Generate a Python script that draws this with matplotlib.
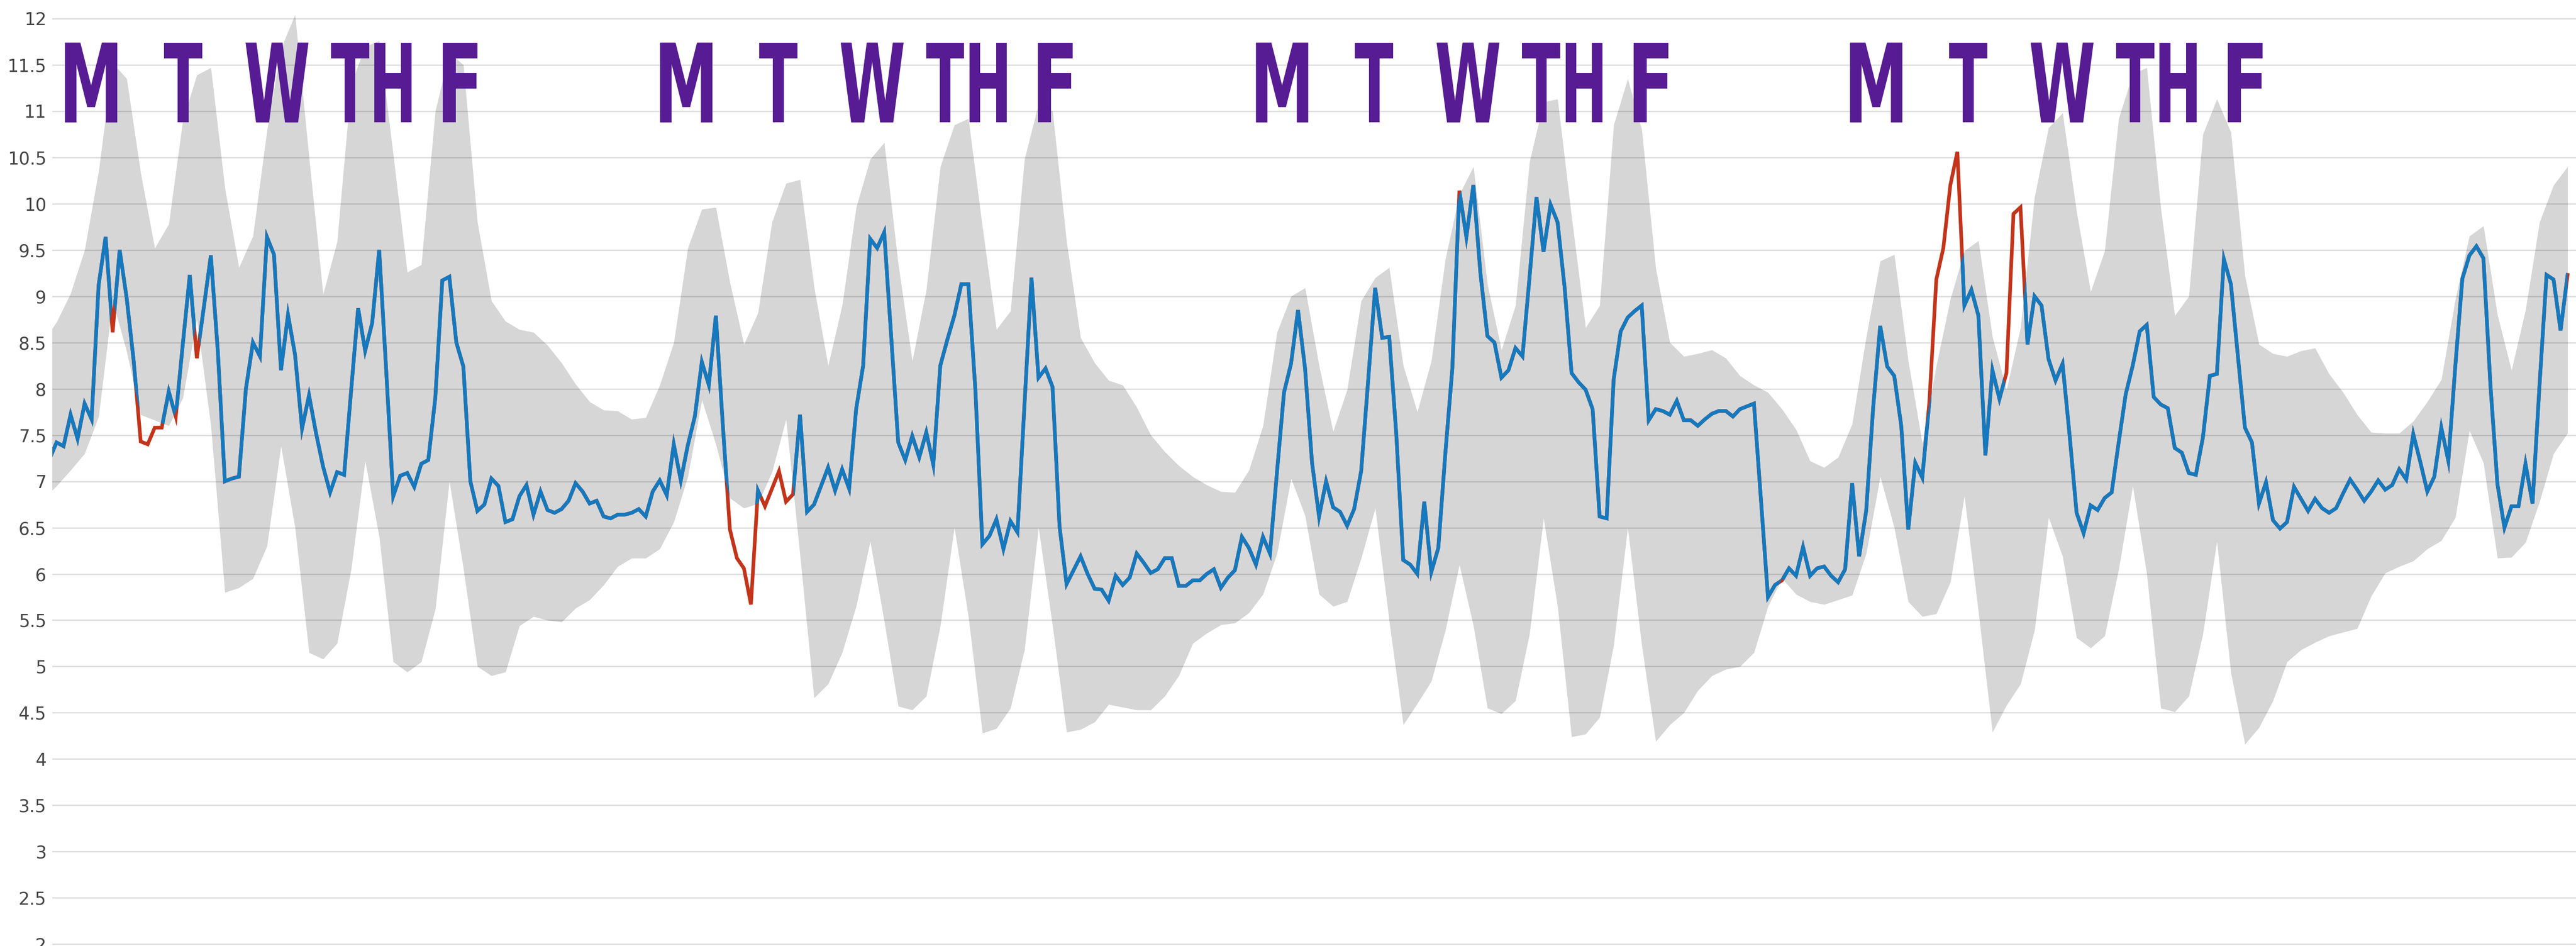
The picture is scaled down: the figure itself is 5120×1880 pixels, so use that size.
import numpy as np
import matplotlib
matplotlib.use('Agg')
import matplotlib.pyplot as plt
from matplotlib.textpath import TextPath
from matplotlib.patches import PathPatch
from matplotlib.font_manager import FontProperties
from matplotlib.transforms import Affine2D

# Lecturas cada 2 horas; el índice -1 queda justo a la izquierda del área visible
valores = [
    7.24,
    7.42, 7.38, 7.72, 7.46, 7.84, 7.67, 9.12, 9.64, 8.61, 9.50,
    8.98, 8.30, 7.43, 7.40, 7.58, 7.58, 7.97, 7.70, 8.48, 9.23,
    8.33, 8.88, 9.44, 8.40, 7.00, 7.03, 7.05, 8.00, 8.50, 8.35,
    9.64, 9.45, 8.20, 8.80, 8.37, 7.57, 7.93, 7.52, 7.16, 6.88,
    7.10, 7.07, 7.98, 8.87, 8.41, 8.71, 9.50, 8.20, 6.84, 7.06,
    7.09, 6.94, 7.19, 7.23, 7.90, 9.17, 9.21, 8.50, 8.24, 7.00,
    6.68, 6.75, 7.03, 6.95, 6.56, 6.59, 6.84, 6.96, 6.64, 6.89,
    6.69, 6.66, 6.70, 6.79, 6.98, 6.89, 6.76, 6.79, 6.62, 6.60,
    6.64, 6.64, 6.66, 6.70, 6.62, 6.89, 7.01, 6.85, 7.40, 7.01,
    7.39, 7.70, 8.29, 8.04, 8.79, 7.60, 6.48, 6.17, 6.06, 5.67,
    6.90, 6.73, 6.92, 7.11, 6.78, 6.86, 7.72, 6.67, 6.75, 6.95,
    7.15, 6.90, 7.13, 6.92, 7.78, 8.25, 9.62, 9.52, 9.69, 8.56,
    7.42, 7.23, 7.49, 7.26, 7.53, 7.18, 8.25, 8.53, 8.79, 9.13,
    9.13, 7.99, 6.32, 6.41, 6.59, 6.27, 6.57, 6.45, 7.83, 9.20,
    8.12, 8.22, 8.02, 6.51, 5.89, 6.04, 6.19, 6.00, 5.84, 5.83,
    5.71, 5.98, 5.88, 5.96, 6.22, 6.12, 6.01, 6.05, 6.17, 6.17,
    5.87, 5.87, 5.93, 5.93, 6.00, 6.05, 5.85, 5.96, 6.04, 6.40,
    6.28, 6.10, 6.40, 6.22, 7.10, 7.96, 8.27, 8.85, 8.22, 7.20,
    6.62, 7.00, 6.72, 6.67, 6.52, 6.70, 7.11, 8.09, 9.09, 8.55,
    8.56, 7.52, 6.15, 6.10, 6.00, 6.78, 6.02, 6.28, 7.30, 8.22,
    10.14, 9.64, 10.20, 9.25, 8.57, 8.50, 8.12, 8.20, 8.44, 8.35,
    9.20, 10.07, 9.48, 9.99, 9.80, 9.10, 8.17, 8.07, 7.99, 7.78,
    6.62, 6.60, 8.10, 8.62, 8.77, 8.84, 8.90, 7.66, 7.78, 7.76,
    7.72, 7.87, 7.66, 7.66, 7.60, 7.67, 7.73, 7.76, 7.76, 7.70,
    7.78, 7.81, 7.84, 6.80, 5.75, 5.88, 5.93, 6.06, 5.98, 6.29,
    5.98, 6.06, 6.08, 5.98, 5.91, 6.05, 6.98, 6.19, 6.68, 7.80,
    8.68, 8.24, 8.14, 7.60, 6.48, 7.20, 7.04, 7.85, 9.18, 9.52,
    10.20, 10.56, 8.90, 9.07, 8.79, 7.28, 8.20, 7.89, 8.17, 9.89,
    9.96, 8.48, 9.00, 8.90, 8.32, 8.09, 8.27, 7.50, 6.66, 6.44,
    6.74, 6.69, 6.82, 6.88, 7.42, 7.94, 8.25, 8.62, 8.69, 7.91,
    7.83, 7.79, 7.36, 7.31, 7.09, 7.07, 7.47, 8.14, 8.16, 9.40,
    9.13, 8.35, 7.58, 7.42, 6.76, 6.99, 6.58, 6.49, 6.56, 6.94,
    6.81, 6.68, 6.81, 6.71, 6.66, 6.71, 6.87, 7.02, 6.91, 6.79,
    6.89, 7.01, 6.91, 6.96, 7.13, 7.02, 7.51, 7.21, 6.89, 7.05,
    7.58, 7.22, 8.25, 9.19, 9.44, 9.54, 9.41, 8.04, 6.97, 6.50,
    6.73, 6.73, 7.19, 6.76, 8.04, 9.23, 9.18, 8.63, 9.23,
]

# Intervalo esperado (cada 4 horas, empezando en el índice -2)
banda_sup = [
    8.50, 8.72, 9.03, 9.50, 10.35, 11.52, 11.35, 10.33, 9.52, 9.78,
    10.90, 11.39, 11.47, 10.17, 9.31, 9.65, 10.79, 11.68, 12.04, 10.50,
    9.02, 9.59, 11.29, 11.70, 11.76, 10.53, 9.26, 9.34, 11.00, 11.63,
    11.50, 9.80, 8.95, 8.73, 8.64, 8.61, 8.47, 8.28, 8.05, 7.86,
    7.77, 7.76, 7.67, 7.69, 8.04, 8.50, 9.52, 9.94, 9.96, 9.15,
    8.48, 8.82, 9.80, 10.22, 10.26, 9.10, 8.25, 8.90, 9.96, 10.48,
    10.66, 9.35, 8.30, 9.07, 10.40, 10.85, 10.92, 9.75, 8.64, 8.84,
    10.48, 11.08, 11.00, 9.59, 8.55, 8.28, 8.09, 8.04, 7.80, 7.50,
    7.32, 7.17, 7.05, 6.96, 6.89, 6.88, 7.12, 7.60, 8.61, 9.00,
    9.09, 8.25, 7.54, 7.99, 8.95, 9.20, 9.31, 8.25, 7.75, 8.30,
    9.40, 10.10, 10.40, 9.13, 8.42, 8.90, 10.45, 11.10, 11.13, 9.86,
    8.66, 8.90, 10.85, 11.35, 10.80, 9.30, 8.50, 8.35, 8.38, 8.42,
    8.33, 8.14, 8.04, 7.96, 7.78, 7.56, 7.22, 7.15, 7.26, 7.62,
    8.56, 9.38, 9.45, 8.30, 7.41, 8.25, 8.97, 9.49, 9.60, 8.56,
    7.99, 8.66, 10.07, 10.82, 10.98, 9.91, 9.05, 9.49, 10.92, 11.40,
    11.47, 9.95, 8.79, 9.00, 10.75, 11.13, 10.77, 9.22, 8.48, 8.38,
    8.35, 8.41, 8.44, 8.16, 7.96, 7.72, 7.53, 7.52, 7.52, 7.65,
    7.86, 8.10, 8.97, 9.65, 9.76, 8.80, 8.20, 8.85, 9.80, 10.20,
    10.40,
]
banda_inf = [
    6.80, 6.95, 7.12, 7.30, 7.70, 8.95, 8.40, 7.72, 7.66, 7.60,
    7.90, 8.75, 7.60, 5.80, 5.85, 5.95, 6.30, 7.38, 6.50, 5.15,
    5.08, 5.25, 6.05, 7.22, 6.40, 5.05, 4.94, 5.05, 5.62, 7.00,
    6.06, 5.00, 4.90, 4.94, 5.44, 5.54, 5.50, 5.48, 5.63, 5.72,
    5.88, 6.08, 6.17, 6.17, 6.27, 6.56, 7.05, 7.88, 7.40, 6.82,
    6.71, 6.76, 7.10, 7.67, 6.20, 4.66, 4.81, 5.15, 5.65, 6.35,
    5.49, 4.57, 4.53, 4.68, 5.44, 6.50, 5.54, 4.28, 4.33, 4.55,
    5.18, 6.50, 5.44, 4.29, 4.32, 4.40, 4.59, 4.56, 4.53, 4.53,
    4.68, 4.90, 5.25, 5.36, 5.45, 5.47, 5.58, 5.78, 6.22, 7.03,
    6.63, 5.78, 5.65, 5.70, 6.17, 6.71, 5.49, 4.37, 4.60, 4.84,
    5.39, 6.10, 5.44, 4.55, 4.49, 4.63, 5.35, 6.60, 5.65, 4.24,
    4.27, 4.45, 5.23, 6.50, 5.23, 4.19, 4.37, 4.50, 4.74, 4.90,
    4.97, 5.00, 5.15, 5.65, 5.95, 5.78, 5.70, 5.67, 5.72, 5.77,
    6.22, 7.05, 6.50, 5.70, 5.54, 5.57, 5.91, 6.84, 5.59, 4.29,
    4.58, 4.81, 5.39, 6.61, 6.19, 5.31, 5.20, 5.33, 6.05, 6.95,
    6.00, 4.55, 4.51, 4.68, 5.35, 6.35, 4.93, 4.16, 4.34, 4.63,
    5.05, 5.18, 5.26, 5.33, 5.37, 5.41, 5.76, 6.01, 6.08, 6.14,
    6.27, 6.36, 6.61, 7.55, 7.20, 6.17, 6.18, 6.34, 6.78, 7.30,
    7.52,
]

dias = ['M', 'T', 'W', 'TH', 'F']
marcas_y = np.arange(2, 12.01, 0.5)

AZUL = '#1479be'
ROJO = '#c3341a'
GRIS_BANDA = '#d6d6d6'
MORADO = '#571c94'

x = np.arange(-1, len(valores) - 1)
xb = np.arange(-2, -2 + 2 * len(banda_sup), 2)

fig = plt.figure(figsize=(51.2, 18.8), dpi=100, facecolor='white')
ax = fig.add_axes([104 / 5120, 0, 1 - 104 / 5120, 1])
ax.set_facecolor('white')

# Banda gris del intervalo esperado
banda = ax.fill_between(xb, banda_inf, banda_sup, color=GRIS_BANDA, lw=0, zorder=1)

# Rejilla horizontal
for v in marcas_y:
    ax.axhline(v, color='black', alpha=0.14, lw=1.8, zorder=1.5)

# Serie: roja completa debajo, azul recortada a la banda encima
ax.plot(x, valores, color=ROJO, lw=5.2, zorder=3, solid_joinstyle='miter')
linea_azul, = ax.plot(x, valores, color=AZUL, lw=5.2, zorder=4, solid_joinstyle='miter')
linea_azul.set_clip_path(banda.get_paths()[0], ax.transData)

ax.set_xlim(-0.6, 359.2)
ax.set_ylim(1.98, 12.2)
ax.set_yticks(marcas_y)
ax.set_yticklabels([f'{v:g}' for v in marcas_y])
ax.tick_params(axis='y', length=0, pad=8.6, labelsize=25, labelcolor='#454545')
ax.set_xticks([])
for s in ax.spines.values():
    s.set_visible(False)

# Letras de los días (texto comprimido en horizontal)
fp = FontProperties(family='DejaVu Sans', weight='bold')
inicio_semana = [1.2, 86.05, 171.0, 255.7]
posicion_dia = {'M': (0.0, 7.46), 'T': (14.13, 5.45), 'W': (25.75, 8.97),
                'TH': (37.95, 11.45), 'F': (53.87, 4.95)}
y_base, y_alto = 10.877, 11.74


def dibujar_letras(texto, x0, ancho):
    tp = TextPath((0, 0), texto, size=1, prop=fp)
    ext = tp.get_extents()
    tr = (Affine2D().translate(-ext.x0, -ext.y0)
          .scale(ancho / ext.width, (y_alto - y_base) / ext.height)
          .translate(x0, y_base))
    ax.add_patch(PathPatch(tr.transform_path(tp), facecolor=MORADO, lw=0, zorder=6))


for ini in inicio_semana:
    for d in dias:
        dx, ancho = posicion_dia[d]
        dibujar_letras(d, ini + dx, ancho)

fig.savefig('out.png', dpi=100, facecolor='white')
